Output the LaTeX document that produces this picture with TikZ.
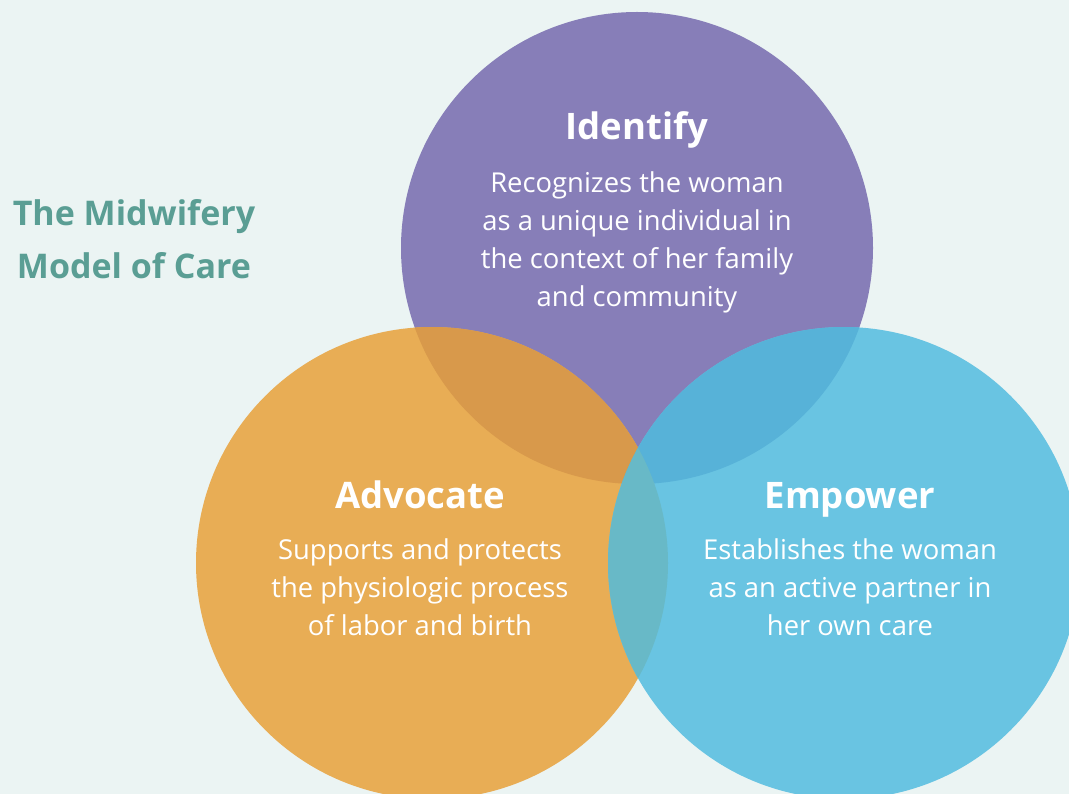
\documentclass[tikz,border=0pt]{standalone}
\usepackage{fontspec}
\setmainfont{Open Sans}
\definecolor{bgmint}{HTML}{EBF4F3}
\definecolor{titleteal}{HTML}{5A9E94}
\definecolor{idpurple}{HTML}{877EB8}
\definecolor{advorange}{HTML}{E8AD55}
\definecolor{empblue}{HTML}{69C4E2}
\definecolor{idadv}{HTML}{D8994B}
\definecolor{idemp}{HTML}{57B2D8}
\definecolor{advemp}{HTML}{68B9C7}
\tikzset{
  head/.style={text=white, font=\bfseries\fontsize{36.5}{42}\selectfont, anchor=base, inner sep=0pt},
  body/.style={text=white, font=\fontsize{27.4}{38}\selectfont, align=center, anchor=north, inner sep=0pt},
  title/.style={text=titleteal, font=\bfseries\fontsize{34}{53}\selectfont, align=center, anchor=north, inner sep=0pt},
}
\begin{document}
\begin{tikzpicture}[x=1pt,y=-1pt]
\useasboundingbox[fill=bgmint] (0,0) rectangle (1069,794);
\clip (0,0) rectangle (1069,794);
% circle centres
\coordinate (idc) at (637,248);
\coordinate (adc) at (432,563);
\coordinate (emc) at (844,563);
\fill[idpurple] (idc) circle[radius=236pt];
\fill[advorange] (adc) circle[radius=236pt];
\fill[empblue] (emc) circle[radius=236pt];
% overlaps
\begin{scope}
\clip (idc) circle[radius=236pt];
\fill[idadv] (adc) circle[radius=236pt];
\fill[idemp] (emc) circle[radius=236pt];
\end{scope}
\begin{scope}
\clip (adc) circle[radius=236pt];
\fill[advemp] (emc) circle[radius=236pt];
\end{scope}
% texts
\node[title] (title) at (134,199) {The Midwifery\\Model of Care};
\node[head] (idhead) at (637,140) {Identify};
\node[body] (idtext) at (637,171) {Recognizes the woman\\as a unique individual in\\the context of her family\\and community};
\node[head] (advhead) at (420,508) {Advocate};
\node[body] (advtext) at (420,538) {Supports and protects\\the physiologic process\\of labor and birth};
\node[head] (emphead) at (850,508) {Empower};
\node[body] (emptext) at (850,538) {Establishes the woman\\as an active partner in\\her own care};
\end{tikzpicture}
\end{document}
